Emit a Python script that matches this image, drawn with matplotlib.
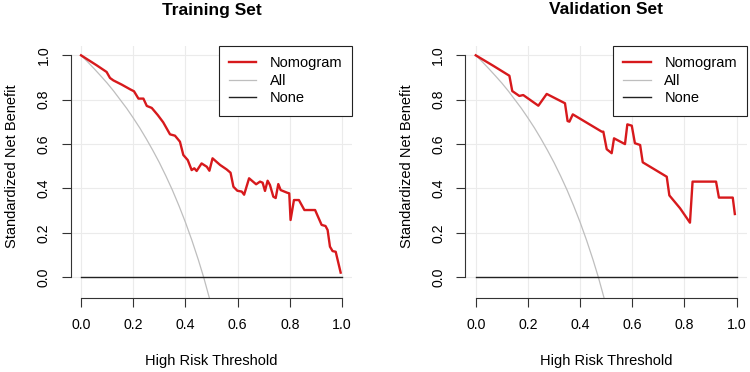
import matplotlib
matplotlib.use("Agg")
import matplotlib.pyplot as plt

plt.rcParams['font.family'] = ['Liberation Sans', 'DejaVu Sans']

# decision curve values
train_thr = [0.0, 0.06, 0.098, 0.111, 0.124, 0.156, 0.188, 0.203, 0.22, 0.239, 0.252, 0.271,
             0.294, 0.315, 0.341, 0.36, 0.379, 0.392, 0.409, 0.424, 0.434, 0.443, 0.462, 0.482,
             0.492, 0.504, 0.533, 0.558, 0.573, 0.584, 0.599, 0.616, 0.625, 0.644, 0.671, 0.686,
             0.696, 0.705, 0.715, 0.724, 0.737, 0.746, 0.756, 0.765, 0.79, 0.798, 0.803, 0.816,
             0.835, 0.856, 0.897, 0.922, 0.937, 0.945, 0.954, 0.964, 0.976, 0.995]
train_nomo = [1.0, 0.955, 0.925, 0.898, 0.887, 0.868, 0.847, 0.838, 0.805, 0.805, 0.772, 0.763,
              0.731, 0.698, 0.644, 0.638, 0.611, 0.551, 0.528, 0.483, 0.491, 0.479, 0.513, 0.498,
              0.48, 0.536, 0.506, 0.486, 0.471, 0.408, 0.39, 0.386, 0.372, 0.446, 0.419, 0.431,
              0.426, 0.389, 0.435, 0.416, 0.363, 0.357, 0.42, 0.393, 0.381, 0.378, 0.258, 0.348,
              0.348, 0.303, 0.303, 0.236, 0.231, 0.213, 0.138, 0.118, 0.115, 0.021]

valid_thr = [0.0, 0.067, 0.129, 0.14, 0.167, 0.182, 0.24, 0.272, 0.342, 0.352, 0.359, 0.372,
             0.483, 0.489, 0.502, 0.521, 0.53, 0.572, 0.581, 0.598, 0.61, 0.63, 0.64, 0.732,
             0.742, 0.783, 0.821, 0.831, 0.921, 0.932, 0.985, 0.993]
valid_nomo = [1.0, 0.953, 0.908, 0.839, 0.817, 0.821, 0.773, 0.826, 0.784, 0.704, 0.701, 0.734,
              0.656, 0.656, 0.577, 0.559, 0.626, 0.6, 0.689, 0.683, 0.604, 0.596, 0.518, 0.453,
              0.369, 0.311, 0.246, 0.431, 0.431, 0.359, 0.359, 0.285]

# "treat all" curve (same in both panels at this resolution)
all_thr = [0.0, 0.025, 0.05, 0.075, 0.1, 0.125, 0.15, 0.175, 0.2, 0.225, 0.25, 0.275,
           0.3, 0.325, 0.35, 0.375, 0.4, 0.425, 0.45, 0.47, 0.5]
all_nb = [1.0, 0.971, 0.94, 0.908, 0.875, 0.839, 0.80, 0.761, 0.718, 0.673, 0.624, 0.572,
          0.517, 0.457, 0.393, 0.323, 0.248, 0.166, 0.077, 0.0, -0.128]

none_thr = [0.0, 1.0]
none_nb = [0.0, 0.0]

ticks = [0.0, 0.2, 0.4, 0.6, 0.8, 1.0]
tick_labels = ['0.0', '0.2', '0.4', '0.6', '0.8', '1.0']

W, H = 750, 372
fig = plt.figure(figsize=(7.5, 3.72), dpi=100)

panels = [
    ("Training Set", train_thr, train_nomo, 70.6),
    ("Validation Set", valid_thr, valid_nomo, 465.3),
]

axc = '#333333'
for title, thr, nomo, left in panels:
    ax = fig.add_axes([left / W, (H - 297.7) / H, 281.8 / W, 251.7 / H])
    ax.set_xlim(-0.04, 1.04)
    ax.set_ylim(-0.092, 1.042)

    for t in ticks:
        ax.axvline(t, color='#EBEBEB', lw=0.8, zorder=0)
        ax.axhline(t, color='#EBEBEB', lw=0.8, zorder=0)

    ax.plot(thr, nomo, color='#D7191C', lw=1.7, label='Nomogram', zorder=3)
    ax.plot(all_thr, all_nb, color='#BEBEBE', lw=0.9, label='All', zorder=2)
    ax.plot(none_thr, none_nb, color='#222222', lw=1.0, label='None', zorder=2)

    for s in ['top', 'right']:
        ax.spines[s].set_visible(False)
    for s in ['left', 'bottom']:
        ax.spines[s].set_bounds(0, 1)
        ax.spines[s].set_color(axc)
        ax.spines[s].set_linewidth(0.8)

    ax.set_xticks(ticks)
    ax.set_xticklabels(tick_labels)
    ax.set_yticks(ticks)
    ax.set_yticklabels(tick_labels, rotation=90, va='center')
    ax.tick_params(length=6.5, width=0.8, color=axc, labelsize=10.2, pad=8, labelcolor='black')

    leg = ax.legend(loc='upper right', bbox_to_anchor=(1.0, 1.0), borderaxespad=0,
                    fancybox=False, edgecolor='#222222', framealpha=1, fontsize=10.5,
                    handlelength=1.9, handletextpad=0.9, borderpad=0.7, labelspacing=0.25)
    leg.get_frame().set_linewidth(0.8)

    cx = left + 10.44 + 130.5
    fig.text(cx / W, 1 - 10 / H, title, ha='center', va='center',
             fontsize=12.5, fontweight='bold')
    fig.text(cx / W, 1 - 361 / H, 'High Risk Threshold', ha='center', va='center', fontsize=10.5)
    fig.text((left - 58.6) / W, 1 - 166.3 / H, 'Standardized Net Benefit', ha='center',
             va='center', rotation=90, fontsize=10.5)

fig.savefig('out.png', dpi=100)
